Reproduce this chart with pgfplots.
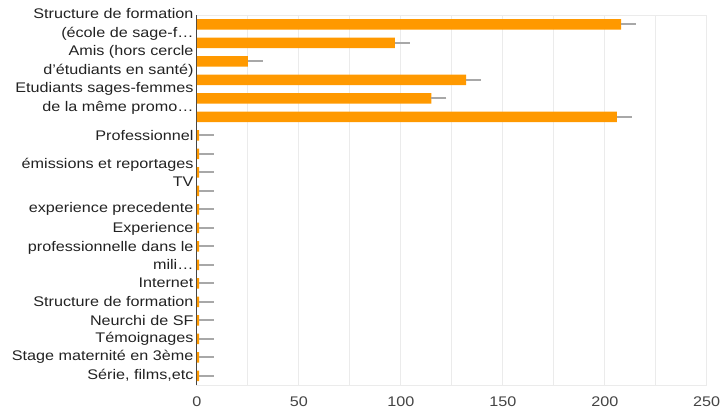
\documentclass[border=0pt]{standalone}
\usepackage{fontspec}
\setmainfont{Liberation Sans}[FakeStretch=1.16]
\usepackage{pgfplots}
\pgfplotsset{compat=1.18}

\definecolor{barorange}{HTML}{FF9900}
\definecolor{errgray}{HTML}{A8A8A8}
\definecolor{gridgray}{HTML}{EBEBEB}
\definecolor{labelgray}{HTML}{222222}
\definecolor{axisgray}{HTML}{444444}

\begin{document}
\begin{tikzpicture}
\begin{axis}[
  scale only axis,
  width=509.7bp, height=370bp,
  xbar, bar width=10.5bp,
  y dir=reverse,
  xmin=0, xmax=250, ymin=0.5, ymax=20.5,
  xtick={0,50,...,250},
  minor xtick={25,75,...,225},
  xmajorgrids, xminorgrids,
  major grid style={draw=gridgray, line width=1bp},
  minor grid style={draw=gridgray, line width=1bp},
  axis line style={draw=gridgray, line width=1bp},
  major tick length=0pt, minor tick length=0pt,
  extra x ticks={0},
  extra x tick labels={},
  extra x tick style={major grid style={draw=axisgray, line width=1bp}},
  ytick={1,3,5,7,9,11,13,15,16,17,18,19,20},
  yticklabels={
    {Structure de formation\\(école de sage-f…},
    {Amis (hors cercle\\d’étudiants en santé)},
    {Etudiants sages-femmes\\de la même promo…},
    {Professionnel},
    {émissions et reportages\\TV},
    {experience precedente},
    {Experience\\professionnelle dans le\\mili…},
    {Internet},
    {Structure de formation},
    {Neurchi de SF},
    {Témoignages},
    {Stage maternité en 3ème},
    {Série, films,etc}},
  tick label style={font=\fontsize{14}{18.4}\selectfont, text=labelgray},
  yticklabel style={align=right},
  xticklabel style={yshift=-8.5bp, text=axisgray},
  /pgf/number format/assume math mode=true,
]
\addplot[fill=barorange, draw=none,
  error bars/.cd, x dir=plus, x explicit,
  error mark=none,
  error bar style={draw=errgray, line width=1.6bp}]
  coordinates {
    (208,1) +- (7.3,0)
    (97,2) +- (7.3,0)
    (25,3) +- (7.3,0)
    (132,4) +- (7.3,0)
    (115,5) +- (7.3,0)
    (206,6) +- (7.3,0)
    (1,7) +- (7.3,0)
    (1,8) +- (7.3,0)
    (1,9) +- (7.3,0)
    (1,10) +- (7.3,0)
    (1,11) +- (7.3,0)
    (1,12) +- (7.3,0)
    (1,13) +- (7.3,0)
    (1,14) +- (7.3,0)
    (1,15) +- (7.3,0)
    (1,16) +- (7.3,0)
    (1,17) +- (7.3,0)
    (1,18) +- (7.3,0)
    (1,19) +- (7.3,0)
    (1,20) +- (7.3,0)
  };
\end{axis}
\pgfresetboundingbox
\path[use as bounding box]
  ([shift={(-197bp,-25bp)}]current axis.south west)
  rectangle ([shift={(14.3bp,15bp)}]current axis.north east);
\end{tikzpicture}
\end{document}
